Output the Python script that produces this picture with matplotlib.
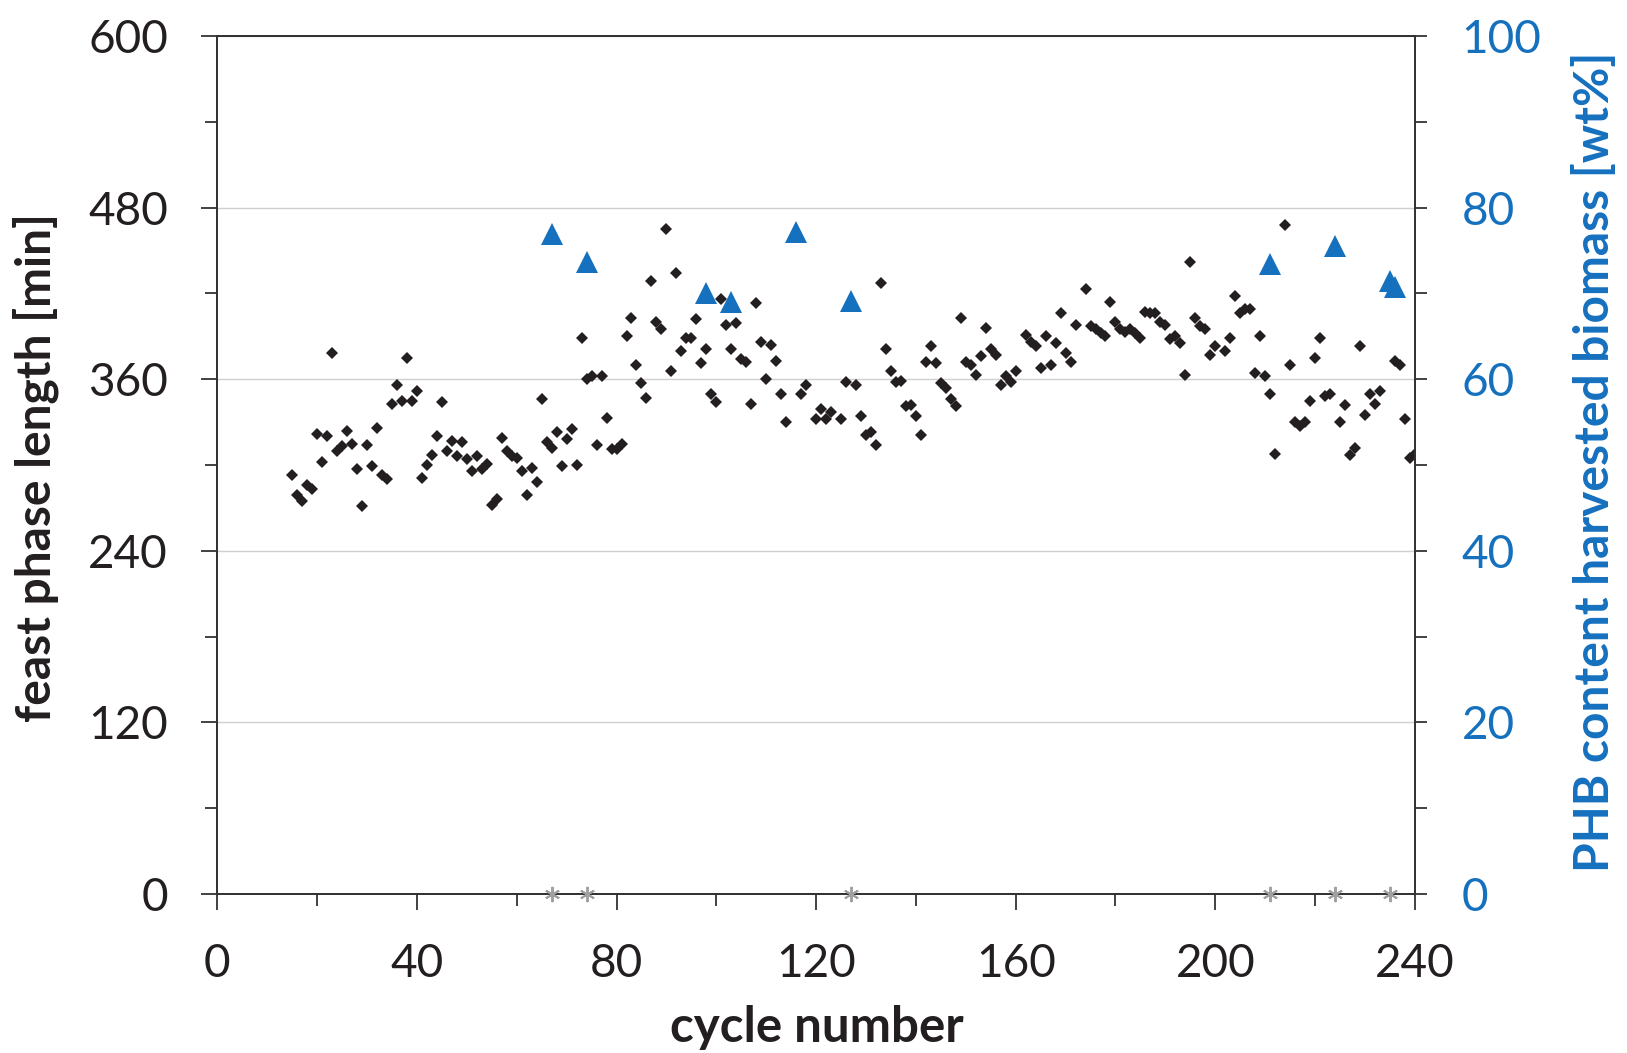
import numpy as np
import matplotlib
matplotlib.use('Agg')
import matplotlib.pyplot as plt
from matplotlib.ticker import MultipleLocator

plt.rcParams['font.family'] = ['Lato', 'DejaVu Sans']

# feast phase length per cycle [min]
cycle = [15, 16, 17, 18, 19, 20, 21, 22, 23, 24, 25, 26, 27, 28, 29, 30, 31, 32, 33, 34,
         35, 36, 37, 38, 39, 40, 41, 42, 43, 44, 45, 46, 47, 48, 49, 50, 51, 52, 53, 54,
         55, 56, 57, 58, 59, 60, 61, 62, 63, 64, 65, 66, 67, 68, 69, 70, 71, 72, 73, 74,
         75, 76, 77, 78, 79, 80, 81, 82, 83, 84, 85, 86, 87, 88, 89, 90, 91, 92, 93, 94,
         95, 96, 97, 98, 99, 100, 101, 102, 103, 104, 105, 106, 107, 108, 109, 110, 111, 112, 113, 114,
         117, 118, 120, 121, 122, 123, 125, 126, 128, 129, 130, 131, 132, 133, 134, 135, 136, 137, 138, 139,
         140, 141, 142, 143, 144, 145, 146, 147, 148, 149, 150, 151, 152, 153, 154, 155, 156, 157, 158, 159,
         160, 162, 163, 164, 165, 166, 167, 168, 169, 170, 171, 172, 174, 175, 176, 177, 178, 179, 180, 181,
         182, 183, 184, 185, 186, 187, 188, 189, 190, 191, 192, 193, 194, 195, 196, 197, 198, 199, 200, 202,
         203, 204, 205, 206, 207, 208, 209, 210, 211, 212, 214, 215, 216, 217, 218, 219, 220, 221, 222, 223,
         225, 226, 227, 228, 229, 230, 231, 232, 233, 236, 237, 238, 239, 240]
feast = [293, 279, 275, 286, 283, 322, 302, 320, 378, 310, 313, 324, 315, 297, 271, 314, 299, 326, 293, 290,
         343, 356, 345, 375, 345, 352, 291, 300, 307, 320, 344, 310, 317, 306, 316, 304, 296, 306, 297, 301,
         272, 276, 319, 310, 306, 305, 296, 279, 298, 288, 346, 316, 312, 323, 299, 318, 325, 300, 389, 360,
         362, 314, 362, 333, 311, 311, 315, 390, 403, 370, 357, 347, 429, 400, 395, 465, 366, 434, 380, 389,
         389, 402, 371, 381, 350, 344, 416, 398, 381, 399, 374, 372, 343, 413, 386, 360, 384, 373, 350, 330,
         350, 356, 332, 339, 332, 337, 332, 358, 356, 334, 321, 323, 314, 427, 381, 366, 358, 359, 341, 342,
         334, 321, 372, 383, 371, 357, 354, 346, 341, 403, 372, 370, 363, 376, 396, 381, 377, 356, 362, 358,
         366, 391, 386, 383, 368, 390, 370, 385, 406, 378, 372, 398, 423, 397, 395, 392, 390, 414, 400, 395,
         393, 395, 392, 389, 407, 406, 406, 400, 398, 388, 390, 385, 363, 442, 403, 397, 395, 377, 383, 380,
         389, 418, 406, 409, 409, 364, 390, 362, 350, 308, 468, 370, 330, 327, 330, 345, 375, 389, 348, 350,
         330, 342, 307, 312, 383, 335, 350, 343, 352, 373, 370, 332, 305, 308]

# PHB content of harvested biomass [wt%]
phb_cycle = [67, 74, 98, 103, 116, 127, 211, 224, 235, 236]
phb = [76.9, 73.7, 70.0, 69.0, 77.2, 69.1, 73.4, 75.5, 71.5, 70.8]

# harvest markers on the axis
harvest_cycle = [67, 74, 127, 211, 224, 235]
harvest_val = [0, 0, 0, 0, 0, 0]

dark = '#231F20'
blue = '#1570BE'
axcol = '#333333'

fig = plt.figure(figsize=(16.27, 10.53), dpi=100)
ax = fig.add_axes([0.1336, 0.151, 0.736, 0.8148])
ax2 = ax.twinx()

ax.set_xlim(0, 240)
ax.set_ylim(0, 600)
ax2.set_ylim(0, 100)

ax.xaxis.set_major_locator(MultipleLocator(40))
ax.xaxis.set_minor_locator(MultipleLocator(20))
ax.yaxis.set_major_locator(MultipleLocator(120))
ax.yaxis.set_minor_locator(MultipleLocator(60))
ax2.yaxis.set_major_locator(MultipleLocator(20))
ax2.yaxis.set_minor_locator(MultipleLocator(10))

for a in (ax, ax2):
    for s in a.spines.values():
        s.set_color(axcol)
        s.set_linewidth(1.3)

ax.grid(axis='y', which='major', color='#CFCFCF', linewidth=1.0, zorder=0)
ax.set_axisbelow(True)

ax.tick_params(axis='x', which='major', direction='out', length=11.5, width=1.3, color=axcol,
               labelsize=33, labelcolor=dark, pad=24)
ax.tick_params(axis='x', which='minor', direction='out', length=8.6, width=1.3, color=axcol)
ax.tick_params(axis='y', which='major', direction='out', length=11.5, width=1.3, color=axcol,
               labelsize=33, labelcolor=dark, pad=24)
ax.tick_params(axis='y', which='minor', direction='out', length=8.6, width=1.3, color=axcol)
ax2.tick_params(axis='y', which='both', direction='out', length=8.6, width=1.3, color=axcol,
                labelsize=33, labelcolor=blue, pad=25)

ax.plot(cycle, feast, linestyle='none', marker='D', ms=6.5, mew=0, color=dark, zorder=3)
ax2.plot(phb_cycle, phb, linestyle='none', marker='^', ms=16.5, mew=0, color=blue, zorder=4)
ax2.plot(harvest_cycle, harvest_val, linestyle='none', marker=(6, 2, 0), ms=11, mew=1.4,
         color='#A0A0A0', clip_on=False, zorder=5)

fig.text(36/1627, 1-467/1053, 'feast phase length [min]', rotation=90, ha='center', va='center',
         fontsize=34.5, fontweight='bold', color=dark)
fig.text(1594/1627, 1-462/1053, 'PHB content harvested biomass [wt%]', rotation=90, ha='center',
         va='center', fontsize=34.5, fontweight='bold', color=blue)
fig.text(816.6/1627, 1-1027/1053, 'cycle number', ha='center', va='center',
         fontsize=35.5, fontweight='bold', color=dark)

fig.savefig('out.png', dpi=100)
